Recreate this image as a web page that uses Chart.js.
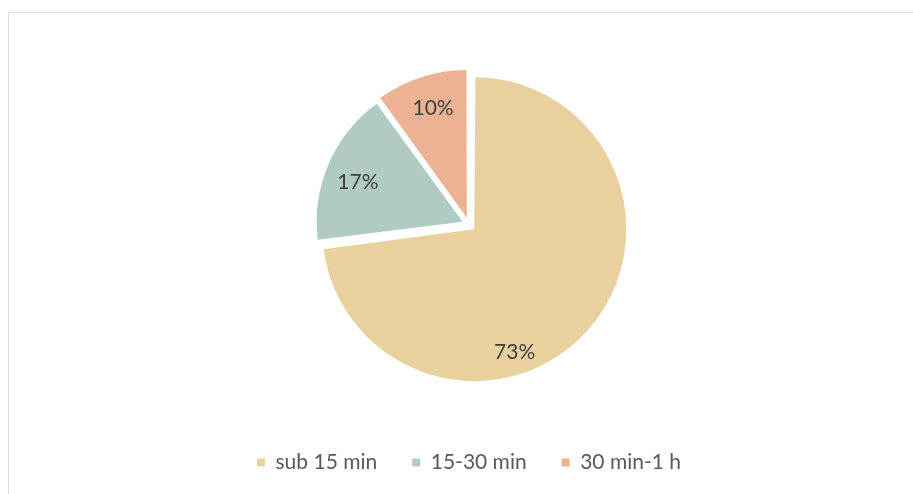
<!DOCTYPE html>
<html>
<head>
<meta charset="utf-8">
<script src="https://cdn.jsdelivr.net/npm/chart.js@4.4.0/dist/chart.umd.min.js"></script>
<style>
  html, body { margin: 0; padding: 0; background: #fff; overflow: hidden; }
  #wrap { position: relative; width: 913px; height: 494px; overflow: hidden; }
  #frame { position: absolute; left: 8px; top: 12px; width: 1000px; height: 600px; border: 1px solid #d9d9d9; }
  #chart-box { position: absolute; left: 0; top: 0; width: 913px; height: 494px; }
</style>
</head>
<body>
<div id="wrap">
  <div id="frame"></div>
  <div id="chart-box"><canvas id="pie"></canvas></div>
</div>
<script>
const categories = ['sub 15 min', '15-30 min', '30 min-1 h'];
const shares = [73, 17, 10];
const sliceColors = ['#e8d19d', '#b0cbc4', '#ebb393'];

// where each percent label sits: fraction of the slice's sweep, fraction of the radius
const labelAngleFrac = [0.616, 0.456, 0.525];
const labelRadiusFrac = [0.854, 0.767, 0.777];

const FONT = 'Lato, "Open Sans", sans-serif';

const sliceLabels = {
    id: 'sliceLabels',
    afterDatasetsDraw(chart) {
        const ctx = chart.ctx;
        const meta = chart.getDatasetMeta(0);
        ctx.save();
        ctx.font = '21px ' + FONT;
        ctx.fillStyle = '#404040';
        ctx.textAlign = 'center';
        ctx.textBaseline = 'middle';
        meta.data.forEach((arc, i) => {
            const p = arc.getProps(['x', 'y', 'startAngle', 'endAngle', 'outerRadius', 'circumference']);
            // same shift and radius growth that ArcElement applies for its offset
            const off = (arc.options.offset || 0) / 4;
            const fix = 1 - Math.sin(Math.min(Math.PI, p.circumference));
            const mid = (p.startAngle + p.endAngle) / 2;
            const cx = p.x + Math.cos(mid) * off;
            const cy = p.y + Math.sin(mid) * off;
            const a = p.startAngle + labelAngleFrac[i] * (p.endAngle - p.startAngle);
            const r = (p.outerRadius + off * fix) * labelRadiusFrac[i];
            ctx.fillText(shares[i] + '%', cx + Math.cos(a) * r, cy + Math.sin(a) * r);
        });
        ctx.restore();
    }
};

new Chart(document.getElementById('pie'), {
    type: 'pie',
    data: {
        labels: categories,
        datasets: [{
            data: shares,
            backgroundColor: sliceColors,
            borderWidth: 0,
            offset: 28,
            radius: 145
        }]
    },
    options: {
        responsive: true,
        maintainAspectRatio: false,
        animation: false,
        layout: { padding: { left: 25, right: 0, top: 32, bottom: 11 } },
        plugins: {
            tooltip: { enabled: false },
            legend: {
                position: 'bottom',
                labels: {
                    boxWidth: 8,
                    boxHeight: 8,
                    padding: 35,
                    color: '#595959',
                    font: { family: FONT, size: 21 }
                }
            }
        }
    },
    plugins: [sliceLabels]
});
</script>
</body>
</html>
